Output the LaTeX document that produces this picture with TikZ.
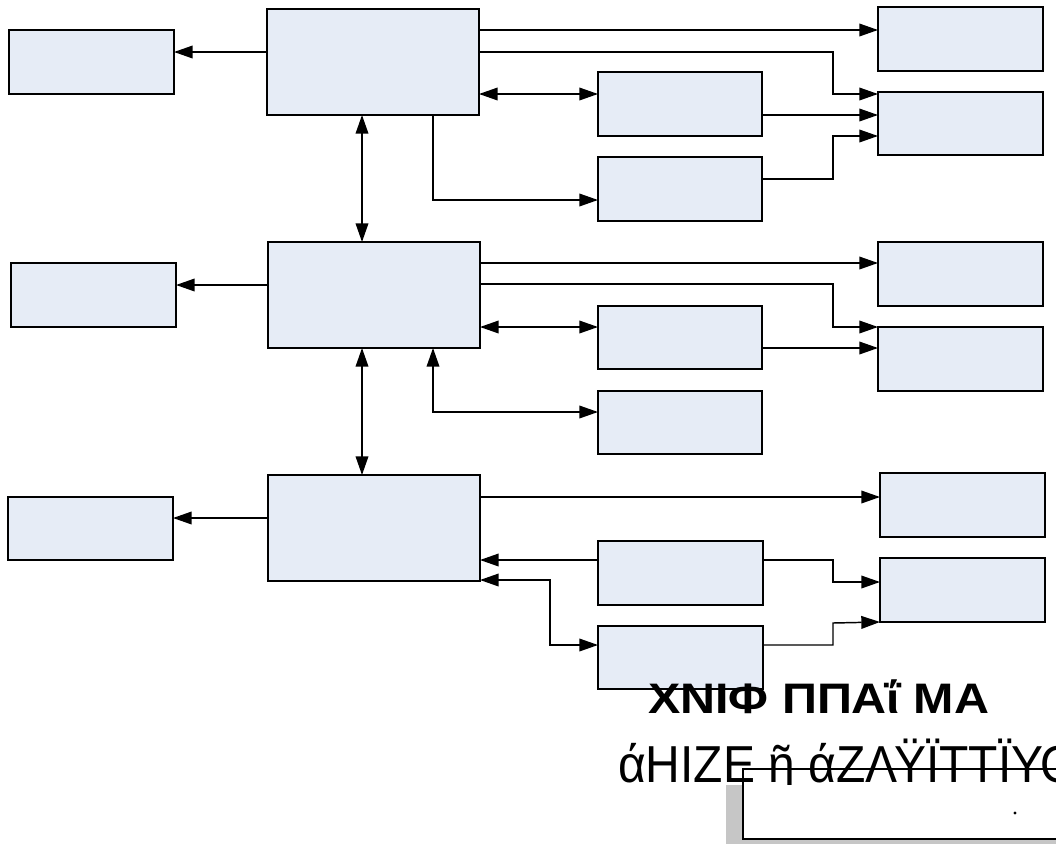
\documentclass[tikz,border=0pt]{standalone}
\usepackage{graphicx}
\usepackage{fontspec}
\setmainfont{Liberation Sans}
\usetikzlibrary{arrows.meta,fit}
\definecolor{boxfill}{RGB}{230,236,246}
\tikzset{
  blk/.style={draw=black, fill=boxfill, line width=1.4pt, inner sep=0pt, outer sep=0pt},
  conn/.style={line width=1.1pt, line join=miter},
  arr/.style={conn, -{Triangle[length=14pt,width=9.5pt]}},
  dbl/.style={conn, {Triangle[length=14pt,width=9.5pt]}-{Triangle[length=14pt,width=9.5pt]}},
  glyphrow/.style={anchor=base west, inner sep=0pt, outer sep=0pt}
}
\newcommand{\blkbox}[5]{\node[blk, fit={(#2,#3) (#4,#5)}] (#1) {};}
\begin{document}
\begin{tikzpicture}[x=0.75pt, y=-0.75pt]
\useasboundingbox (0,0) rectangle (1056,843);
\clip (0,0) rectangle (1056,843);
% left boxes
\blkbox{L1}{9}{30}{174}{94}
\blkbox{L2}{11}{263}{176}{327}
\blkbox{L3}{8}{497}{173}{560}
% main boxes
\blkbox{M1}{267}{9}{479}{115}
\blkbox{M2}{268}{242}{480}{348}
\blkbox{M3}{268}{475}{480}{581}
% middle boxes
\blkbox{A1}{598}{72}{762}{136}
\blkbox{A2}{598}{157}{762}{221}
\blkbox{B1}{598}{306}{762}{369}
\blkbox{B2}{598}{391}{762}{454}
\blkbox{C1}{598}{541}{763}{605}
\blkbox{C2}{598}{626}{763}{689}
% right boxes
\blkbox{R1}{878}{7}{1043}{71}
\blkbox{R2}{878}{92}{1043}{155}
\blkbox{R3}{878}{242}{1043}{306}
\blkbox{R4}{878}{327}{1043}{391}
\blkbox{R5}{880}{473}{1045}{537}
\blkbox{R6}{880}{558}{1045}{622}
% tier 1
\draw[arr] (M1.west |- 0,52) -- (L1.east |- 0,52);
\draw[arr] (M1.east |- 0,30) -- (R1.west |- 0,30);
\draw[arr] (M1.east |- 0,52) -- (833,52) -- (833,94) -- (R2.west |- 0,94);
\draw[dbl] (M1.east |- 0,94) -- (A1.west |- 0,94);
\draw[arr] (M1.south -| 433,0) -- (433,200) -- (A2.west |- 0,200);
\draw[arr] (A1.east |- 0,115) -- (R2.west |- 0,115);
\draw[arr] (A2.east |- 0,179) -- (833,179) -- (833,136) -- (R2.west |- 0,136);
\draw[dbl] (M1.south -| 362,0) -- (M2.north -| 362,0);
% tier 2
\draw[arr] (M2.west |- 0,285) -- (L2.east |- 0,285);
\draw[arr] (M2.east |- 0,263) -- (R3.west |- 0,263);
\draw[arr] (M2.east |- 0,284) -- (833,284) -- (833,327) -- (R4.west |- 0,327);
\draw[dbl] (M2.east |- 0,327) -- (B1.west |- 0,327);
\draw[arr] (B1.east |- 0,348) -- (R4.west |- 0,348);
\draw[dbl] (M2.south -| 433,0) -- (433,412) -- (B2.west |- 0,412);
\draw[dbl] (M2.south -| 362,0) -- (M3.north -| 362,0);
% tier 3
\draw[arr] (M3.west |- 0,518) -- (L3.east |- 0,518);
\draw[arr] (M3.east |- 0,497) -- (R5.west |- 0,497);
\draw[arr] (C1.west |- 0,560) -- (M3.east |- 0,560);
\draw[arr] (C1.east |- 0,560) -- (833,560) -- (833,582) -- (R6.west |- 0,582);
\draw[dbl] (M3.east |- 0,580) -- (550,580) -- (550,645) -- (C2.west |- 0,645);
\draw[arr] (C2.east |- 0,645) -- (833,645) -- (833,623) -- (R6.south west);
% bottom frame with shadow
\fill[gray!45] (726,785) rectangle (1060,845);
\node[glyphrow] (t1) at (648,713) {\resizebox{256pt}{\height}{\fontsize{32}{32}\selectfont\bfseries XNIΦ ΠΠΑΐ ΜΑ}};
\node[glyphrow] (t2) at (618,782) {\resizebox{345pt}{\height}{\fontsize{39}{39}\selectfont άΗΙΖΕ ῆ άΖΛΫΪΤΤΪΥΟ}};
\fill[white] (743,785) rectangle (1060,839);
\draw[line width=1.1pt] (1060,769) -- (743,769) -- (743,839) -- (1060,839);
\fill (1015,813) circle[radius=1.6];
\end{tikzpicture}
\end{document}
